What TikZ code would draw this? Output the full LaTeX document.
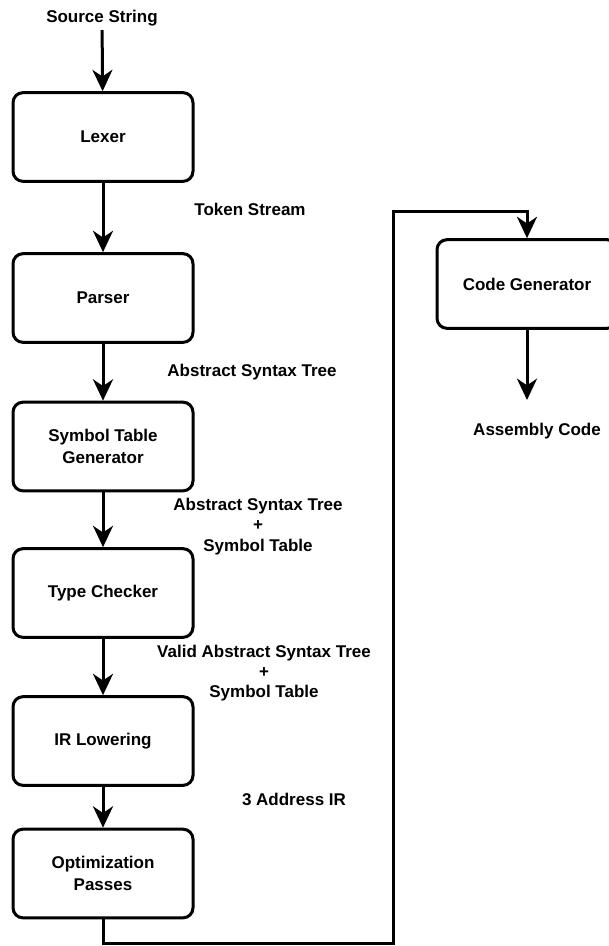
\documentclass[tikz,border=0pt]{standalone}
\usepackage{fontspec}
\setmainfont{Liberation Sans}
\usetikzlibrary{arrows.meta}
\begin{document}
\begin{tikzpicture}[x=0.75pt,y=-0.75pt,
  stage/.style={draw, line width=2.25pt, rounded corners=7.5pt, align=center,
    minimum width=135pt, minimum height=66.5pt, inner sep=0pt},
  lbl/.style={align=center, inner sep=3pt},
  flow/.style={line width=2.25pt, -{Stealth[length=16pt,width=15pt,inset=5pt]}},
  font=\bfseries\fontsize{12.75}{16}\selectfont]
\useasboundingbox (0,0) rectangle (608,946);
\node[lbl] (src) at (102,18) {Source String};
\node[stage] (lex) at (103,137) {Lexer};
\node[stage] (par) at (103,298) {Parser};
\node[stage] (sym) at (103,446.5) {Symbol Table\\Generator};
\node[stage] (typ) at (103,593) {Type Checker};
\node[stage] (irl) at (103,741) {IR Lowering};
\node[stage] (opt) at (103,873.5) {Optimization\\Passes};
\node[stage] (cg) at (527,284) {Code Generator};
\node[lbl] (asm) at (537,431) {Assembly Code};
\node[lbl] (tok) at (250,209) {Token Stream};
\node[lbl] (ast) at (252,372) {Abstract Syntax Tree};
\node[lbl] (astsym) at (258,526.5) {Abstract Syntax Tree\\[-0.5pt]+\\[-0.5pt]Symbol Table};
\node[lbl] (valid) at (264,673) {Valid Abstract Syntax Tree\\[-1pt]+\\[-1pt]Symbol Table};
\node[lbl] (tac) at (294,799) {3 Address IR};
\coordinate (lowturn) at (393,943);
\coordinate (highturn) at (393,211);
\coordinate (asmtip) at (527,400);
\draw[flow] (src) -- (lex);
\draw[flow] (lex) -- (par);
\draw[flow] (par) -- (sym);
\draw[flow] (sym) -- (typ);
\draw[flow] (typ) -- (irl);
\draw[flow] (irl) -- (opt);
\draw[flow] (opt.south) |- (lowturn) -- (highturn) -| (cg.north);
\draw[flow] (cg) -- (asmtip);
\end{tikzpicture}
\end{document}
